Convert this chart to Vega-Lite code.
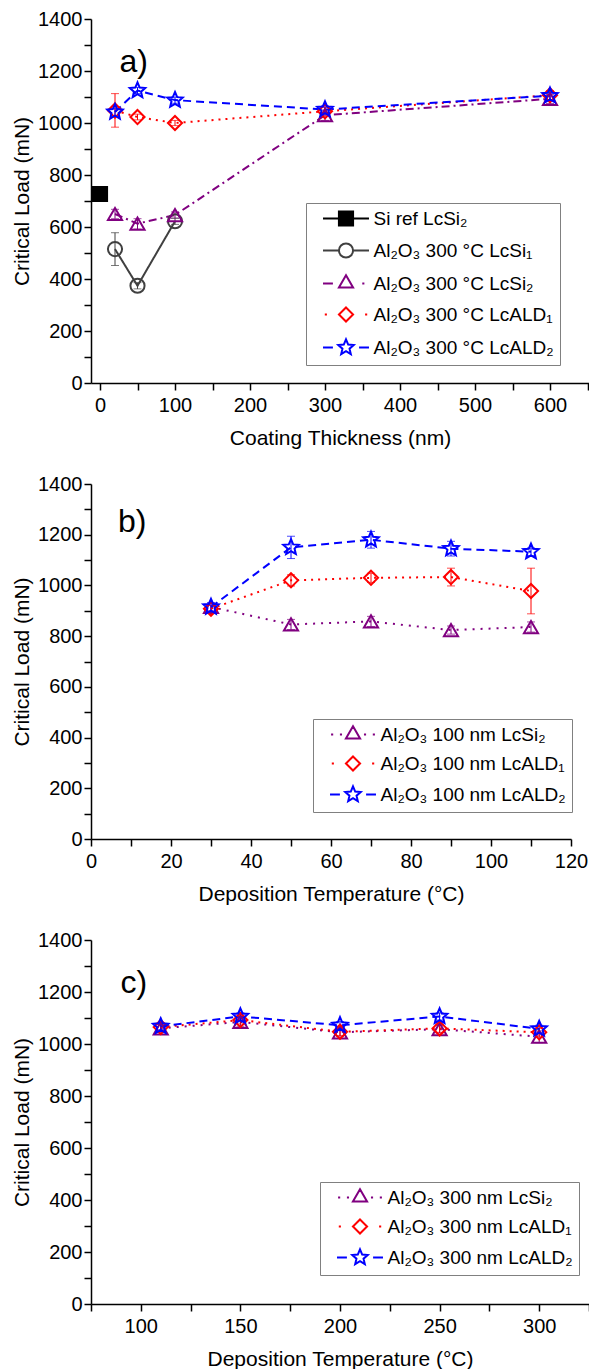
{
  "$schema": "https://vega.github.io/schema/vega-lite/v6.json",
  "background": "white",
  "padding": {"left": 11, "top": 9, "right": 0, "bottom": 0},
  "spacing": 26,
  "config": {
    "font": "Liberation Sans",
    "view": {"stroke": null},
    "axis": {"domainColor": "black", "domainWidth": 1.5, "tickColor": "black", "tickWidth": 1.5, "tickSize": 7, "labelColor": "black", "labelFontSize": 20, "titleFontSize": 21, "titleFontWeight": "normal", "titleColor": "black", "grid": false, "labelFlush": false, "labelOverlap": false, "labelBound": false},
    "axisX": {"labelPadding": 5, "titlePadding": 12},
    "axisY": {"labelPadding": 2, "titlePadding": 5},
    "legend": {"labelFontSize": 19, "labelColor": "black", "labelLimit": 400, "strokeColor": "#808080", "padding": 6, "symbolSize": 200, "symbolStrokeWidth": 2, "symbolOffset": 24.5, "labelOffset": 18, "direction": "vertical"}
  },
  "resolve": {"scale": {"color": "independent", "stroke": "independent", "fill": "independent", "shape": "independent", "strokeDash": "independent"}},
  "datasets": {
    "dsa": [
      {"series": "Si ref LcSi₂", "x": 0, "load": 727, "lo": 720, "hi": 735},
      {"series": "Al₂O₃ 300 °C LcSi₁", "x": 20, "load": 515, "lo": 452, "hi": 578},
      {"series": "Al₂O₃ 300 °C LcSi₁", "x": 50, "load": 374, "lo": 362, "hi": 386},
      {"series": "Al₂O₃ 300 °C LcSi₁", "x": 100, "load": 622, "lo": 610, "hi": 634},
      {"series": "Al₂O₃ 300 °C LcSi₂", "x": 20, "load": 650, "lo": 632, "hi": 668},
      {"series": "Al₂O₃ 300 °C LcSi₂", "x": 50, "load": 613, "lo": 592, "hi": 632},
      {"series": "Al₂O₃ 300 °C LcSi₂", "x": 100, "load": 646, "lo": 634, "hi": 658},
      {"series": "Al₂O₃ 300 °C LcSi₂", "x": 300, "load": 1030, "lo": 1010, "hi": 1050},
      {"series": "Al₂O₃ 300 °C LcSi₂", "x": 600, "load": 1093, "lo": 1075, "hi": 1110},
      {"series": "Al₂O₃ 300 °C LcALD₁", "x": 20, "load": 1048, "lo": 984, "hi": 1113},
      {"series": "Al₂O₃ 300 °C LcALD₁", "x": 50, "load": 1023, "lo": 1012, "hi": 1034},
      {"series": "Al₂O₃ 300 °C LcALD₁", "x": 100, "load": 1000, "lo": 990, "hi": 1010},
      {"series": "Al₂O₃ 300 °C LcALD₁", "x": 300, "load": 1045, "lo": 1030, "hi": 1060},
      {"series": "Al₂O₃ 300 °C LcALD₁", "x": 600, "load": 1107, "lo": 1090, "hi": 1124},
      {"series": "Al₂O₃ 300 °C LcALD₂", "x": 20, "load": 1042, "lo": 1027, "hi": 1057},
      {"series": "Al₂O₃ 300 °C LcALD₂", "x": 50, "load": 1125, "lo": 1113, "hi": 1137},
      {"series": "Al₂O₃ 300 °C LcALD₂", "x": 100, "load": 1088, "lo": 1076, "hi": 1100},
      {"series": "Al₂O₃ 300 °C LcALD₂", "x": 300, "load": 1052, "lo": 1038, "hi": 1066},
      {"series": "Al₂O₃ 300 °C LcALD₂", "x": 600, "load": 1105, "lo": 1090, "hi": 1120}
    ],
    "dsb": [
      {"series": "Al₂O₃ 100 nm LcSi₂", "x": 30, "load": 915, "lo": 900, "hi": 930},
      {"series": "Al₂O₃ 100 nm LcSi₂", "x": 50, "load": 846, "lo": 826, "hi": 866},
      {"series": "Al₂O₃ 100 nm LcSi₂", "x": 70, "load": 858, "lo": 838, "hi": 878},
      {"series": "Al₂O₃ 100 nm LcSi₂", "x": 90, "load": 824, "lo": 808, "hi": 840},
      {"series": "Al₂O₃ 100 nm LcSi₂", "x": 110, "load": 836, "lo": 816, "hi": 856},
      {"series": "Al₂O₃ 100 nm LcALD₁", "x": 30, "load": 908, "lo": 895, "hi": 921},
      {"series": "Al₂O₃ 100 nm LcALD₁", "x": 50, "load": 1020, "lo": 998, "hi": 1042},
      {"series": "Al₂O₃ 100 nm LcALD₁", "x": 70, "load": 1030, "lo": 1012, "hi": 1048},
      {"series": "Al₂O₃ 100 nm LcALD₁", "x": 90, "load": 1033, "lo": 998, "hi": 1068},
      {"series": "Al₂O₃ 100 nm LcALD₁", "x": 110, "load": 978, "lo": 888, "hi": 1068},
      {"series": "Al₂O₃ 100 nm LcALD₂", "x": 30, "load": 915, "lo": 898, "hi": 932},
      {"series": "Al₂O₃ 100 nm LcALD₂", "x": 50, "load": 1150, "lo": 1106, "hi": 1194},
      {"series": "Al₂O₃ 100 nm LcALD₂", "x": 70, "load": 1180, "lo": 1147, "hi": 1213},
      {"series": "Al₂O₃ 100 nm LcALD₂", "x": 90, "load": 1145, "lo": 1116, "hi": 1174},
      {"series": "Al₂O₃ 100 nm LcALD₂", "x": 110, "load": 1133, "lo": 1118, "hi": 1148}
    ],
    "dsc": [
      {"series": "Al₂O₃ 300 nm LcSi₂", "x": 110, "load": 1060, "lo": 1045, "hi": 1075},
      {"series": "Al₂O₃ 300 nm LcSi₂", "x": 150, "load": 1085, "lo": 1068, "hi": 1102},
      {"series": "Al₂O₃ 300 nm LcSi₂", "x": 200, "load": 1045, "lo": 1030, "hi": 1060},
      {"series": "Al₂O₃ 300 nm LcSi₂", "x": 250, "load": 1057, "lo": 1042, "hi": 1072},
      {"series": "Al₂O₃ 300 nm LcSi₂", "x": 300, "load": 1028, "lo": 1005, "hi": 1050},
      {"series": "Al₂O₃ 300 nm LcALD₁", "x": 110, "load": 1065, "lo": 1050, "hi": 1080},
      {"series": "Al₂O₃ 300 nm LcALD₁", "x": 150, "load": 1092, "lo": 1077, "hi": 1107},
      {"series": "Al₂O₃ 300 nm LcALD₁", "x": 200, "load": 1047, "lo": 1032, "hi": 1062},
      {"series": "Al₂O₃ 300 nm LcALD₁", "x": 250, "load": 1060, "lo": 1045, "hi": 1075},
      {"series": "Al₂O₃ 300 nm LcALD₁", "x": 300, "load": 1045, "lo": 1030, "hi": 1060},
      {"series": "Al₂O₃ 300 nm LcALD₂", "x": 110, "load": 1068, "lo": 1055, "hi": 1081},
      {"series": "Al₂O₃ 300 nm LcALD₂", "x": 150, "load": 1106, "lo": 1092, "hi": 1120},
      {"series": "Al₂O₃ 300 nm LcALD₂", "x": 200, "load": 1072, "lo": 1058, "hi": 1086},
      {"series": "Al₂O₃ 300 nm LcALD₂", "x": 250, "load": 1106, "lo": 1092, "hi": 1120},
      {"series": "Al₂O₃ 300 nm LcALD₂", "x": 300, "load": 1058, "lo": 1044, "hi": 1072}
    ]
  },
  "vconcat": [
    {
      "width": 498, "height": 364,
      "data": {"name": "dsa"},
      "encoding": {
        "x": {"field": "x", "type": "quantitative", "scale": {"domain": [-12, 652], "nice": false, "zero": false},
          "axis": {"title": "Coating Thickness (nm)", "values": [0, 50, 100, 150, 200, 250, 300, 350, 400, 450, 500, 550, 600, 650], "format": "d", "labelExpr": "datum.value % 100 === 0 ? datum.label : ''"}},
        "y": {"field": "load", "type": "quantitative", "scale": {"domain": [0, 1400], "nice": false},
          "axis": {"title": "Critical Load (mN)", "values": [0, 100, 200, 300, 400, 500, 600, 700, 800, 900, 1000, 1100, 1200, 1300, 1400], "format": "d", "labelExpr": "datum.value % 200 === 0 ? datum.label : ''"}}
      },
      "layer": [
        {
          "mark": {"type": "errorbar", "ticks": true, "size": 8, "thickness": 1},
          "encoding": {
            "y": {"field": "lo", "type": "quantitative", "scale": {"domain": [0, 1400], "nice": false}, "title": "Critical Load (mN)"},
            "y2": {"field": "hi"},
            "color": {"field": "series", "type": "nominal", "scale": {"domain": ["Al₂O₃ 300 °C LcALD₂", "Al₂O₃ 300 °C LcALD₁", "Al₂O₃ 300 °C LcSi₂", "Al₂O₃ 300 °C LcSi₁", "Si ref LcSi₂"], "range": ["#0000ff", "#ff0000", "#800080", "#404040", "#000000"]}, "legend": null}
          }
        },
        {
          "mark": {"type": "line", "strokeWidth": 2},
          "encoding": {
            "color": {"field": "series", "type": "nominal", "scale": {"domain": ["Al₂O₃ 300 °C LcALD₂", "Al₂O₃ 300 °C LcALD₁", "Al₂O₃ 300 °C LcSi₂", "Al₂O₃ 300 °C LcSi₁", "Si ref LcSi₂"], "range": ["#0000ff", "#ff0000", "#800080", "#404040", "#000000"]}, "legend": null},
            "strokeDash": {"field": "series", "type": "nominal", "scale": {"domain": ["Al₂O₃ 300 °C LcALD₂", "Al₂O₃ 300 °C LcALD₁", "Al₂O₃ 300 °C LcSi₂", "Al₂O₃ 300 °C LcSi₁", "Si ref LcSi₂"], "range": [[8, 5], [2, 5], [8, 4, 2, 4], [1, 0], [1, 0]]}, "legend": null}
          }
        },
        {
          "mark": {"type": "point", "filled": false, "size": 200, "strokeWidth": 2, "opacity": 1},
          "encoding": {
            "shape": {"field": "series", "type": "nominal", "scale": {"domain": ["Al₂O₃ 300 °C LcALD₂", "Al₂O₃ 300 °C LcALD₁", "Al₂O₃ 300 °C LcSi₂", "Al₂O₃ 300 °C LcSi₁", "Si ref LcSi₂"], "range": ["M0,-1.15L0.31,-0.42L1.09,-0.36L0.5,0.16L0.68,0.93L0,0.52L-0.68,0.93L-0.5,0.16L-1.09,-0.36L-0.31,-0.42Z", "diamond", "triangle-up", "circle", "square"]}, "legend": null},
            "fill": {"field": "series", "type": "nominal", "scale": {"domain": ["Al₂O₃ 300 °C LcALD₂", "Al₂O₃ 300 °C LcALD₁", "Al₂O₃ 300 °C LcSi₂", "Al₂O₃ 300 °C LcSi₁", "Si ref LcSi₂"], "range": ["transparent", "transparent", "transparent", "transparent", "#000000"]}, "legend": null},
            "stroke": {"field": "series", "type": "nominal", "scale": {"domain": ["Si ref LcSi₂", "Al₂O₃ 300 °C LcSi₁", "Al₂O₃ 300 °C LcSi₂", "Al₂O₃ 300 °C LcALD₁", "Al₂O₃ 300 °C LcALD₂"], "range": ["#000000", "#404040", "#800080", "#ff0000", "#0000ff"]},
              "legend": {"title": null, "orient": "none", "legendX": 215, "legendY": 184, "rowPadding": 9,
                "symbolType": {"expr": "datum.index === 0 ? 'M-3.25,0H-1M1,0H3.25M-1,-1H1V1H-1Z' : datum.index === 1 ? 'M-3.25,0H-1M1,0H3.25M1,0A1,1,0,1,1,-1,0A1,1,0,1,1,1,0Z' : datum.index === 2 ? 'M-3.25,0H-1.85M2.3,0H2.6M0,-1.155L1,0.577L-1,0.577Z' : datum.index === 3 ? 'M-3,0H-2.7M2.7,0H3M0,-1L1,0L0,1L-1,0Z' : 'M-3.25,0H-1.85M1.85,0H3.25M0,-1.15L0.31,-0.42L1.09,-0.36L0.5,0.16L0.68,0.93L0,0.52L-0.68,0.93L-0.5,0.16L-1.09,-0.36L-0.31,-0.42Z'"},
                "symbolFillColor": {"expr": "datum.index === 0 ? '#000000' : 'transparent'"}}}
          }
        },
        {
          "data": {"values": [{"label": "a)", "x": 45, "load": 1236}]},
          "mark": {"type": "text", "fontSize": 32, "color": "black", "align": "center", "baseline": "middle"},
          "encoding": {"text": {"field": "label"}}
        }
      ]
    },
    {
      "width": 480, "height": 355,
      "data": {"name": "dsb"},
      "encoding": {
        "x": {"field": "x", "type": "quantitative", "scale": {"domain": [0, 120], "nice": false, "zero": false},
          "axis": {"title": "Deposition Temperature (°C)", "values": [0, 10, 20, 30, 40, 50, 60, 70, 80, 90, 100, 110, 120], "format": "d", "labelExpr": "datum.value % 20 === 0 ? datum.label : ''"}},
        "y": {"field": "load", "type": "quantitative", "scale": {"domain": [0, 1400], "nice": false},
          "axis": {"title": "Critical Load (mN)", "values": [0, 100, 200, 300, 400, 500, 600, 700, 800, 900, 1000, 1100, 1200, 1300, 1400], "format": "d", "labelExpr": "datum.value % 200 === 0 ? datum.label : ''"}}
      },
      "layer": [
        {
          "mark": {"type": "errorbar", "ticks": true, "size": 8, "thickness": 1},
          "encoding": {
            "y": {"field": "lo", "type": "quantitative", "scale": {"domain": [0, 1400], "nice": false}, "title": "Critical Load (mN)"},
            "y2": {"field": "hi"},
            "color": {"field": "series", "type": "nominal", "scale": {"domain": ["Al₂O₃ 100 nm LcALD₂", "Al₂O₃ 100 nm LcALD₁", "Al₂O₃ 100 nm LcSi₂"], "range": ["#0000ff", "#ff0000", "#800080"]}, "legend": null}
          }
        },
        {
          "mark": {"type": "line", "strokeWidth": 2},
          "encoding": {
            "color": {"field": "series", "type": "nominal", "scale": {"domain": ["Al₂O₃ 100 nm LcALD₂", "Al₂O₃ 100 nm LcALD₁", "Al₂O₃ 100 nm LcSi₂"], "range": ["#0000ff", "#ff0000", "#800080"]}, "legend": null},
            "strokeDash": {"field": "series", "type": "nominal", "scale": {"domain": ["Al₂O₃ 100 nm LcALD₂", "Al₂O₃ 100 nm LcALD₁", "Al₂O₃ 100 nm LcSi₂"], "range": [[8, 5], [2, 5], [2, 6]]}, "legend": null}
          }
        },
        {
          "mark": {"type": "point", "filled": false, "size": 200, "strokeWidth": 2, "opacity": 1},
          "encoding": {
            "shape": {"field": "series", "type": "nominal", "scale": {"domain": ["Al₂O₃ 100 nm LcALD₂", "Al₂O₃ 100 nm LcALD₁", "Al₂O₃ 100 nm LcSi₂"], "range": ["M0,-1.15L0.31,-0.42L1.09,-0.36L0.5,0.16L0.68,0.93L0,0.52L-0.68,0.93L-0.5,0.16L-1.09,-0.36L-0.31,-0.42Z", "diamond", "triangle-up"]}, "legend": null},
            "stroke": {"field": "series", "type": "nominal", "scale": {"domain": ["Al₂O₃ 100 nm LcSi₂", "Al₂O₃ 100 nm LcALD₁", "Al₂O₃ 100 nm LcALD₂"], "range": ["#800080", "#ff0000", "#0000ff"]},
              "legend": {"title": null, "orient": "none", "legendX": 222, "legendY": 235, "rowPadding": 7,
                "symbolType": {"expr": "datum.index === 0 ? 'M-3.1,0H-2.8M-1.85,0H-1.55M1.55,0H1.85M2.8,0H3.1M0,-1.155L1,0.577L-1,0.577Z' : datum.index === 1 ? 'M-3,0H-2.7M2.7,0H3M0,-1L1,0L0,1L-1,0Z' : 'M-3.25,0H-1.85M1.85,0H3.25M0,-1.15L0.31,-0.42L1.09,-0.36L0.5,0.16L0.68,0.93L0,0.52L-0.68,0.93L-0.5,0.16L-1.09,-0.36L-0.31,-0.42Z'"},
                "symbolFillColor": "transparent"}}
          }
        },
        {
          "data": {"values": [{"label": "b)", "x": 10.3, "load": 1252}]},
          "mark": {"type": "text", "fontSize": 32, "color": "black", "align": "center", "baseline": "middle"},
          "encoding": {"text": {"field": "label"}}
        }
      ]
    },
    {
      "width": 498, "height": 364,
      "data": {"name": "dsc"},
      "encoding": {
        "x": {"field": "x", "type": "quantitative", "scale": {"domain": [75, 325], "nice": false, "zero": false},
          "axis": {"title": "Deposition Temperature (°C)", "values": [75, 100, 125, 150, 175, 200, 225, 250, 275, 300, 325], "format": "d", "labelExpr": "datum.value % 50 === 0 ? datum.label : ''"}},
        "y": {"field": "load", "type": "quantitative", "scale": {"domain": [0, 1400], "nice": false},
          "axis": {"title": "Critical Load (mN)", "values": [0, 100, 200, 300, 400, 500, 600, 700, 800, 900, 1000, 1100, 1200, 1300, 1400], "format": "d", "labelExpr": "datum.value % 200 === 0 ? datum.label : ''"}}
      },
      "layer": [
        {
          "mark": {"type": "errorbar", "ticks": true, "size": 8, "thickness": 1},
          "encoding": {
            "y": {"field": "lo", "type": "quantitative", "scale": {"domain": [0, 1400], "nice": false}, "title": "Critical Load (mN)"},
            "y2": {"field": "hi"},
            "color": {"field": "series", "type": "nominal", "scale": {"domain": ["Al₂O₃ 300 nm LcALD₂", "Al₂O₃ 300 nm LcALD₁", "Al₂O₃ 300 nm LcSi₂"], "range": ["#0000ff", "#ff0000", "#800080"]}, "legend": null}
          }
        },
        {
          "mark": {"type": "line", "strokeWidth": 2},
          "encoding": {
            "color": {"field": "series", "type": "nominal", "scale": {"domain": ["Al₂O₃ 300 nm LcALD₂", "Al₂O₃ 300 nm LcALD₁", "Al₂O₃ 300 nm LcSi₂"], "range": ["#0000ff", "#ff0000", "#800080"]}, "legend": null},
            "strokeDash": {"field": "series", "type": "nominal", "scale": {"domain": ["Al₂O₃ 300 nm LcALD₂", "Al₂O₃ 300 nm LcALD₁", "Al₂O₃ 300 nm LcSi₂"], "range": [[8, 5], [2, 5], [2, 6]]}, "legend": null}
          }
        },
        {
          "mark": {"type": "point", "filled": false, "size": 200, "strokeWidth": 2, "opacity": 1},
          "encoding": {
            "shape": {"field": "series", "type": "nominal", "scale": {"domain": ["Al₂O₃ 300 nm LcALD₂", "Al₂O₃ 300 nm LcALD₁", "Al₂O₃ 300 nm LcSi₂"], "range": ["M0,-1.15L0.31,-0.42L1.09,-0.36L0.5,0.16L0.68,0.93L0,0.52L-0.68,0.93L-0.5,0.16L-1.09,-0.36L-0.31,-0.42Z", "diamond", "triangle-up"]}, "legend": null},
            "stroke": {"field": "series", "type": "nominal", "scale": {"domain": ["Al₂O₃ 300 nm LcSi₂", "Al₂O₃ 300 nm LcALD₁", "Al₂O₃ 300 nm LcALD₂"], "range": ["#800080", "#ff0000", "#0000ff"]},
              "legend": {"title": null, "orient": "none", "legendX": 229, "legendY": 242, "rowPadding": 7,
                "symbolType": {"expr": "datum.index === 0 ? 'M-3.1,0H-2.8M-1.85,0H-1.55M1.55,0H1.85M2.8,0H3.1M0,-1.155L1,0.577L-1,0.577Z' : datum.index === 1 ? 'M-3,0H-2.7M2.7,0H3M0,-1L1,0L0,1L-1,0Z' : 'M-3.25,0H-1.85M1.85,0H3.25M0,-1.15L0.31,-0.42L1.09,-0.36L0.5,0.16L0.68,0.93L0,0.52L-0.68,0.93L-0.5,0.16L-1.09,-0.36L-0.31,-0.42Z'"},
                "symbolFillColor": "transparent"}}
          }
        },
        {
          "data": {"values": [{"label": "c)", "x": 96.5, "load": 1236}]},
          "mark": {"type": "text", "fontSize": 32, "color": "black", "align": "center", "baseline": "middle"},
          "encoding": {"text": {"field": "label"}}
        }
      ]
    }
  ]
}
